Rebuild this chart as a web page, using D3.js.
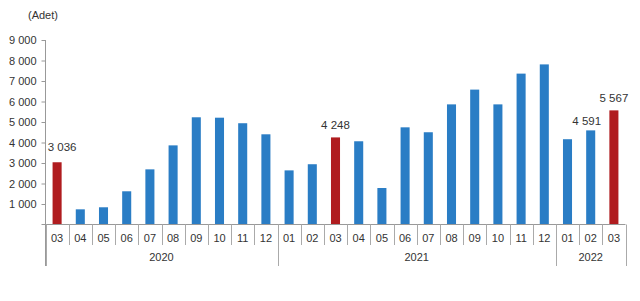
<!DOCTYPE html>
<html>
<head>
<meta charset="utf-8">
<script src="https://cdn.jsdelivr.net/npm/d3@7"></script>
<style>
  body { margin: 0; background: #fff; }
  text { font-family: "Liberation Sans", Arial, sans-serif; fill: #333; }
</style>
</head>
<body>
<svg width="640" height="301"></svg>
<script>
var width = 640, height = 301;

// month labels and years
var months = ['03','04','05','06','07','08','09','10','11','12',
              '01','02','03','04','05','06','07','08','09','10','11','12',
              '01','02','03'];
var years = ['2020','2020','2020','2020','2020','2020','2020','2020','2020','2020',
             '2021','2021','2021','2021','2021','2021','2021','2021','2021','2021','2021','2021',
             '2022','2022','2022'];
var values = [3036, 740, 840, 1620, 2690, 3860, 5230, 5210, 4940, 4400,
              2640, 2940, 4248, 4060, 1780, 4740, 4500, 5860, 6580, 5860, 7360, 7810,
              4160, 4591, 5567];
// bars highlighted in red and labelled
var highlight = [0, 12, 24];
var labelled = [0, 12, 23, 24];
var yTicks = [1000, 2000, 3000, 4000, 5000, 6000, 7000, 8000, 9000];

var svg = d3.select('svg');
var plotLeft = 45.5, plotRight = 625.5, plotTop = 40, base = 224.5;

var keys = d3.range(values.length);
var x = d3.scaleBand()
  .domain(keys)
  .range([plotLeft, plotRight])
  .paddingInner(0.61)
  .paddingOuter(0.305);

var band = d3.scaleBand().domain(keys).range([plotLeft, plotRight]);

var y = d3.scaleLinear()
  .domain([0, 9000])
  .range([base, plotTop]);

var fmt = function(v) { return d3.format(',')(v).replace(/,/g, ' '); };

// y axis
var yAxis = svg.append('g')
  .attr('transform', 'translate(' + plotLeft + ',0)')
  .call(d3.axisLeft(y).tickValues(yTicks).tickSize(4).tickFormat(fmt));
yAxis.select('.domain').attr('stroke', '#999').attr('d', 'M0,' + plotTop + 'V266');
yAxis.selectAll('.tick line').attr('stroke', '#999');
yAxis.selectAll('.tick text')
  .attr('x', -9)
  .style('font-size', '11px')
  .style('fill', '#333');

svg.append('text')
  .attr('x', 28).attr('y', 19)
  .style('font-size', '11px')
  .text('(Adet)');

// bars
svg.selectAll('.bar')
  .data(values)
  .enter()
  .append('rect')
  .attr('class', 'bar')
  .attr('x', function(d, i) { return x(i); })
  .attr('width', x.bandwidth())
  .attr('y', function(d) { return y(d); })
  .attr('height', function(d) { return base - y(d); })
  .attr('fill', function(d, i) { return highlight.indexOf(i) >= 0 ? '#b01c1f' : '#2a7dc5'; });

// label nudges so they don't hit the axis / neighbours
var nudge = { 0: [5, -11], 12: [0, -8.5], 23: [-4, -5], 24: [0, -8.5] };
svg.selectAll('.vlabel')
  .data(labelled)
  .enter()
  .append('text')
  .attr('class', 'vlabel')
  .attr('x', function(i) { return x(i) + x.bandwidth() / 2 + nudge[i][0]; })
  .attr('y', function(i) { return y(values[i]) + nudge[i][1]; })
  .attr('text-anchor', 'middle')
  .style('font-size', '11.5px')
  .text(function(i) { return fmt(values[i]); });

// category axis
var gx = svg.append('g');
gx.append('line')
  .attr('x1', plotLeft - 4).attr('x2', plotRight)
  .attr('y1', base).attr('y2', base)
  .attr('stroke', '#999');

var bounds = keys.map(function(i) { return band(i); }).concat([plotRight]);
gx.selectAll('.sep')
  .data(bounds)
  .enter()
  .append('line')
  .attr('x1', function(d) { return Math.round(d) + 0.5; })
  .attr('x2', function(d) { return Math.round(d) + 0.5; })
  .attr('y1', base)
  .attr('y2', function(d, i) {
    return (i == 0 || i == bounds.length - 1 || years[i] != years[i - 1]) ? 266 : 245;
  })
  .attr('stroke', '#aaa');

gx.selectAll('.month')
  .data(months)
  .enter()
  .append('text')
  .attr('x', function(d, i) { return band(i) + band.bandwidth() / 2; })
  .attr('y', 241.5)
  .attr('text-anchor', 'middle')
  .style('font-size', '11px')
  .text(function(d) { return d; });

var yearGroups = d3.groups(keys, function(i) { return years[i]; });
gx.selectAll('.year')
  .data(yearGroups)
  .enter()
  .append('text')
  .attr('x', function(g) {
    var a = band(g[1][0]), b = band(g[1][g[1].length - 1]) + band.bandwidth();
    return (a + b) / 2;
  })
  .attr('y', 261)
  .attr('text-anchor', 'middle')
  .style('font-size', '11px')
  .text(function(g) { return g[0]; });
</script>
</body>
</html>
